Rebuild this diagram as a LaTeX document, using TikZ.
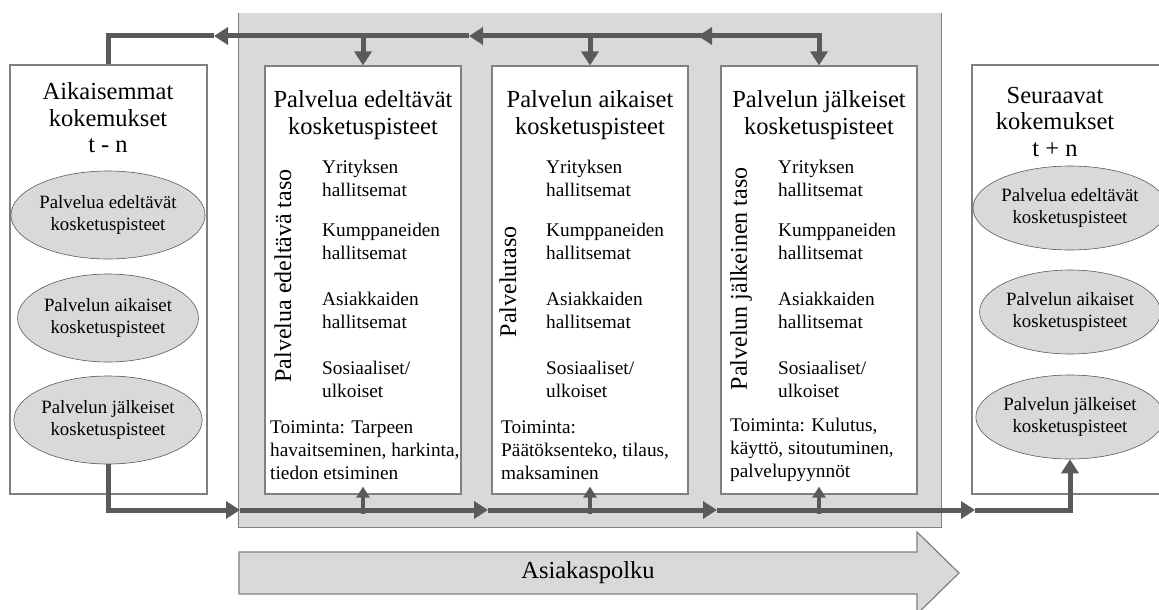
\documentclass[tikz,border=0pt]{standalone}
\usepackage{fontspec}
\setmainfont{Liberation Serif}
\usetikzlibrary{shapes.geometric, arrows.meta}

\definecolor{panelgrey}{HTML}{D9D9D9}
\definecolor{edgegrey}{HTML}{808080}
\definecolor{flowgrey}{HTML}{5A5A5A}

\begin{document}
\begin{tikzpicture}[x=1pt,y=-1pt,
  card/.style={draw=edgegrey, line width=1.2pt, fill=white, inner sep=0pt},
  touch/.style={ellipse, draw=flowgrey, line width=0.6pt, fill=panelgrey, inner sep=0pt,
    align=center, font=\fontsize{18.8}{22}\selectfont},
  head/.style={align=center, inner sep=0pt, font=\fontsize{24.5}{26.5}\selectfont},
  item/.style={anchor=west, align=left, inner sep=0pt, font=\fontsize{19.3}{23}\selectfont},
  level/.style={rotate=90, inner sep=0pt, font=\fontsize{24}{26}\selectfont},
  flow/.style={draw=flowgrey, line width=5pt},
  bigtip/.style={-{Triangle[length=14pt,width=17pt]}},
  smalltip/.style={-{Triangle[length=11pt,width=13pt]}}]
\useasboundingbox (0,0) rectangle (1159,610);

\node[fill=panelgrey, minimum width=702, minimum height=514, inner sep=0pt] (stage) at (590,270) {};
\draw[edgegrey, line width=1.2pt] (stage.north west) -- (stage.south west) -- (stage.south east) -- (stage.north east);

\node[card, minimum width=197, minimum height=429] (prev) at (108.5,279.5) {};
\node[card, minimum width=196, minimum height=428] (pre) at (363,280) {};
\node[card, minimum width=196, minimum height=428] (during) at (590,280) {};
\node[card, minimum width=196, minimum height=428] (post) at (819,280) {};
\node[card, minimum width=200, minimum height=429] (next) at (1072,279.5) {};

\node[head] (prevtitle) at (108,118) {Aikaisemmat\\kokemukset\\t - n};
\node[head] (nexttitle) at (1055,122) {Seuraavat\\kokemukset\\t + n};
\node[touch, minimum width=166, minimum height=88] (lpre) at (108,215) {Palvelua edeltävät\\kosketuspisteet};
\node[touch, minimum width=166, minimum height=88] (ldur) at (108,318) {Palvelun aikaiset\\kosketuspisteet};
\node[touch, minimum width=166, minimum height=88] (lpost) at (108,420) {Palvelun jälkeiset\\kosketuspisteet};
\node[touch, minimum width=150, minimum height=84] (rpre) at (1070,208) {Palvelua edeltävät\\kosketuspisteet};
\node[touch, minimum width=150, minimum height=84] (rdur) at (1070,312) {Palvelun aikaiset\\kosketuspisteet};
\node[touch, minimum width=150, minimum height=84] (rpost) at (1070,417) {Palvelun jälkeiset\\kosketuspisteet};

\node[head] (pretitle) at (363,115) {Palvelua edeltävät\\kosketuspisteet};
\node[head] (durtitle) at (590,115) {Palvelun aikaiset\\kosketuspisteet};
\node[head] (posttitle) at (819,115) {Palvelun jälkeiset\\kosketuspisteet};
\node[level] (prelevel) at (283,276) {Palvelua edeltävä taso};
\node[level] (durlevel) at (508,282) {Palvelutaso};
\node[level] (postlevel) at (741,279) {Palvelun jälkeinen taso};

\node[item] (pre1) at (322,178) {Yrityksen\\hallitsemat};
\node[item] (pre2) at (322,241) {Kumppaneiden\\hallitsemat};
\node[item] (pre3) at (322,310) {Asiakkaiden\\hallitsemat};
\node[item] (pre4) at (322,379) {Sosiaaliset/\\ulkoiset};
\node[item] (dur1) at (546,178) {Yrityksen\\hallitsemat};
\node[item] (dur2) at (546,241) {Kumppaneiden\\hallitsemat};
\node[item] (dur3) at (546,310) {Asiakkaiden\\hallitsemat};
\node[item] (dur4) at (546,379) {Sosiaaliset/\\ulkoiset};
\node[item] (post1) at (778,178) {Yrityksen\\hallitsemat};
\node[item] (post2) at (778,241) {Kumppaneiden\\hallitsemat};
\node[item] (post3) at (778,310) {Asiakkaiden\\hallitsemat};
\node[item] (post4) at (778,379) {Sosiaaliset/\\ulkoiset};
\node[item] (preact) at (270,450) {Toiminta: Tarpeen\\havaitseminen, harkinta,\\tiedon etsiminen};
\node[item] (duract) at (501,450) {Toiminta:\\Päätöksenteko, tilaus,\\maksaminen};
\node[item] (postact) at (730,450) {Toiminta: Kulutus,\\käyttö, sitoutuminen,\\palvelupyynnöt};

\draw[fill=panelgrey, draw=edgegrey, line width=1.2pt] (239,552) -- (917,552) -- (917,532) -- (959,573) -- (917,614) -- (917,594) -- (239,594) -- cycle;
\node[head] (journey) at (588,573) {Asiakaspolku};

\coordinate (h3) at (819,36);
\coordinate (h2) at (698,36);
\coordinate (h1) at (469,36);
\coordinate (h0) at (214,36);
\draw[flow, bigtip] (h3) -- (h2);
\draw[flow, bigtip] (h2) -- (h1);
\draw[flow, bigtip] (h1) -- (h0);
\draw[flow] (h0) -- (prev.north |- h0) -- (prev.north);
\draw[flow, bigtip] (h2) -- (h3) -- (post.north);
\draw[flow, bigtip] (pre.north |- h0) -- (pre.north);
\draw[flow, bigtip] (during.north |- h0) -- (during.north);

\coordinate (b1) at (240,510);
\coordinate (b2) at (488,510);
\coordinate (b3) at (717,510);
\coordinate (b4) at (975,510);
\draw[flow, bigtip] (lpost.south) -- (lpost.south |- b1) -- (b1);
\draw[flow, bigtip] (b1) -- (b2);
\draw[flow, bigtip] (b2) -- (b3);
\draw[flow, bigtip] (b3) -- (b4);
\draw[flow, bigtip] (b4) -- (rpost.south |- b4) -- (rpost.south);
\draw[flow, line width=3.5pt, smalltip] ([yshift=-4pt]pre.south |- b1) -- ([yshift=8pt]pre.south);
\draw[flow, line width=3.5pt, smalltip] ([yshift=-4pt]during.south |- b1) -- ([yshift=8pt]during.south);
\draw[flow, line width=3.5pt, smalltip] ([yshift=-4pt]post.south |- b1) -- ([yshift=8pt]post.south);
\end{tikzpicture}
\end{document}
